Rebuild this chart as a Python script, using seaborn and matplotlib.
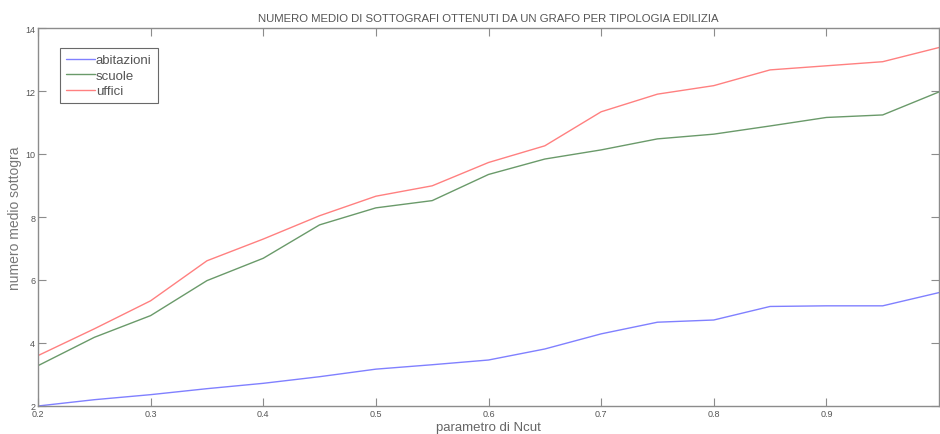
import numpy as np
import pandas as pd
import matplotlib.pyplot as plt
import seaborn as sns

# ---- data ----
ncut = [0.2, 0.25, 0.3, 0.35, 0.4, 0.45, 0.5, 0.55, 0.6, 0.65,
        0.7, 0.75, 0.8, 0.85, 0.9, 0.95, 1.0]
abitazioni = [2.0, 2.2, 2.36, 2.55, 2.72, 2.93, 3.17, 3.31, 3.46, 3.81,
              4.29, 4.66, 4.73, 5.16, 5.18, 5.18, 5.6]
scuole = [3.28, 4.18, 4.87, 5.98, 6.69, 7.75, 8.29, 8.52, 9.35, 9.84,
          10.13, 10.48, 10.63, 10.89, 11.16, 11.24, 11.97]
uffici = [3.6, 4.45, 5.34, 6.61, 7.3, 8.04, 8.66, 8.99, 9.73, 10.26,
          11.34, 11.9, 12.17, 12.67, 12.8, 12.93, 13.38]
series_names = ['abitazioni', 'scuole', 'uffici']

df = pd.DataFrame({
    'ncut': ncut * 3,
    'valore': abitazioni + scuole + uffici,
    'tipologia': np.repeat(series_names, len(ncut)),
})

sns.set_style("white")
plt.rcParams['font.family'] = ['Liberation Sans', 'DejaVu Sans']

fig = plt.figure(figsize=(9.4, 4.35), dpi=100)
ax = fig.add_axes([38 / 940, 28 / 435, 901 / 940, 378 / 435])

palette = {'abitazioni': '#8080ff', 'scuole': '#6a9a6a', 'uffici': '#ff8080'}
sns.lineplot(data=df, x='ncut', y='valore', hue='tipologia', palette=palette,
             linewidth=1.0, ax=ax)

axis_grey = '#8c8c8c'
ax.set_xlim(0.2, 1.0)
ax.set_ylim(2, 14)
ax.set_xticks(np.arange(0.2, 0.95, 0.1))
ax.set_xticklabels(['0.2', '0.3', '0.4', '0.5', '0.6', '0.7', '0.8', '0.9'])
ax.set_yticks(np.arange(2, 15, 2))
ax.tick_params(direction='in', length=6, width=0.8, colors=axis_grey,
               labelcolor='#555555', labelsize=6.5, top=True, right=True,
               bottom=True, left=True, pad=2)
for sp in ax.spines.values():
    sp.set_color(axis_grey)
    sp.set_linewidth(1.0)

ax.set_title('NUMERO MEDIO DI SOTTOGRAFI OTTENUTI DA UN GRAFO PER TIPOLOGIA EDILIZIA',
             fontsize=8.2, color='#555555', pad=5)
ax.set_xlabel('parametro di Ncut', fontsize=9.5, color='#666666')
ax.set_ylabel('numero medio sottogra', fontsize=10, color='#777777')
ax.xaxis.set_label_coords(0.5, -0.04)
ax.yaxis.set_label_coords(-0.018, 0.5)

leg = ax.legend(loc='upper left', bbox_to_anchor=(0.024, 0.947), fontsize=9.5,
                frameon=True, fancybox=False, edgecolor='#444444',
                borderpad=0.45, handlelength=2.2, handletextpad=0.1,
                labelspacing=0.25, borderaxespad=0)
leg.get_frame().set_linewidth(0.8)
for t in leg.get_texts():
    t.set_color('#555555')

fig.savefig('out.png', dpi=100)
